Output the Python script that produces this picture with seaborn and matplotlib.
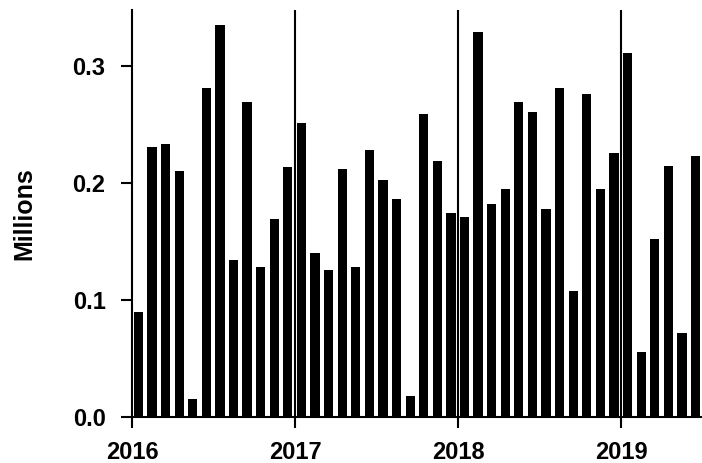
import matplotlib
matplotlib.use("Agg")
import matplotlib.pyplot as plt
import seaborn as sns
import numpy as np
import pandas as pd

months = [f"{y}-{m:02d}" for y in (2016, 2017, 2018, 2019) for m in range(1, 13)][:42]
values = [
    0.090, 0.231, 0.233, 0.210, 0.015, 0.281, 0.335, 0.134, 0.269, 0.128, 0.169, 0.214,
    0.251, 0.140, 0.126, 0.212, 0.128, 0.228, 0.203, 0.186, 0.018, 0.259, 0.219, 0.174,
    0.171, 0.329, 0.182, 0.195, 0.269, 0.261, 0.178, 0.281, 0.108, 0.276, 0.195, 0.226,
    0.311, 0.056, 0.152, 0.215, 0.072, 0.223,
]
year_labels = ["2016", "2017", "2018", "2019"]
y_ticks = [0.0, 0.1, 0.2, 0.3]
y_label = "Millions"

df = pd.DataFrame({"month": months, "value": values})
df["pos"] = np.arange(len(df)) + 0.47

sns.set_style("ticks")
plt.rcParams["font.family"] = ["Liberation Sans", "DejaVu Sans"]
plt.rcParams["text.color"] = "black"
plt.rcParams["axes.labelcolor"] = "black"
plt.rcParams["xtick.color"] = "black"
plt.rcParams["ytick.color"] = "black"

fig = plt.figure(figsize=(7.02, 4.63), dpi=100)
ax = fig.add_axes([132 / 702, 46 / 463, 570 / 702, 407 / 463])

sns.barplot(data=df, x="pos", y="value", native_scale=True, color="black",
            saturation=1, width=0.68, ax=ax, linewidth=0)

ax.set_xlim(0, 41.95)
ax.set_ylim(0, 0.348)

year_pos = [12 * i for i in range(len(year_labels))]
for xp in year_pos[1:]:
    ax.axvline(xp, color="black", linewidth=1.5, zorder=3)

ax.set_xticks(year_pos)
ax.set_xticklabels(year_labels, fontsize=17, fontweight="bold", color="black")
ax.set_yticks(y_ticks)
ax.set_yticklabels([f"{v:.1f}" for v in y_ticks], fontsize=17, fontweight="bold", color="black")
ax.tick_params(axis="x", length=8, width=1.5, pad=9, color="black", labelcolor="black")
ax.tick_params(axis="y", length=8, width=1.5, pad=11, color="black", labelcolor="black")

ax.set_xlabel("")
ax.set_ylabel(y_label, fontsize=18, fontweight="bold", labelpad=26, color="black")

for s in ("top", "right"):
    ax.spines[s].set_visible(False)
for s in ("left", "bottom"):
    ax.spines[s].set_linewidth(1.5)
    ax.spines[s].set_color("black")

fig.savefig("out.png", dpi=100)
